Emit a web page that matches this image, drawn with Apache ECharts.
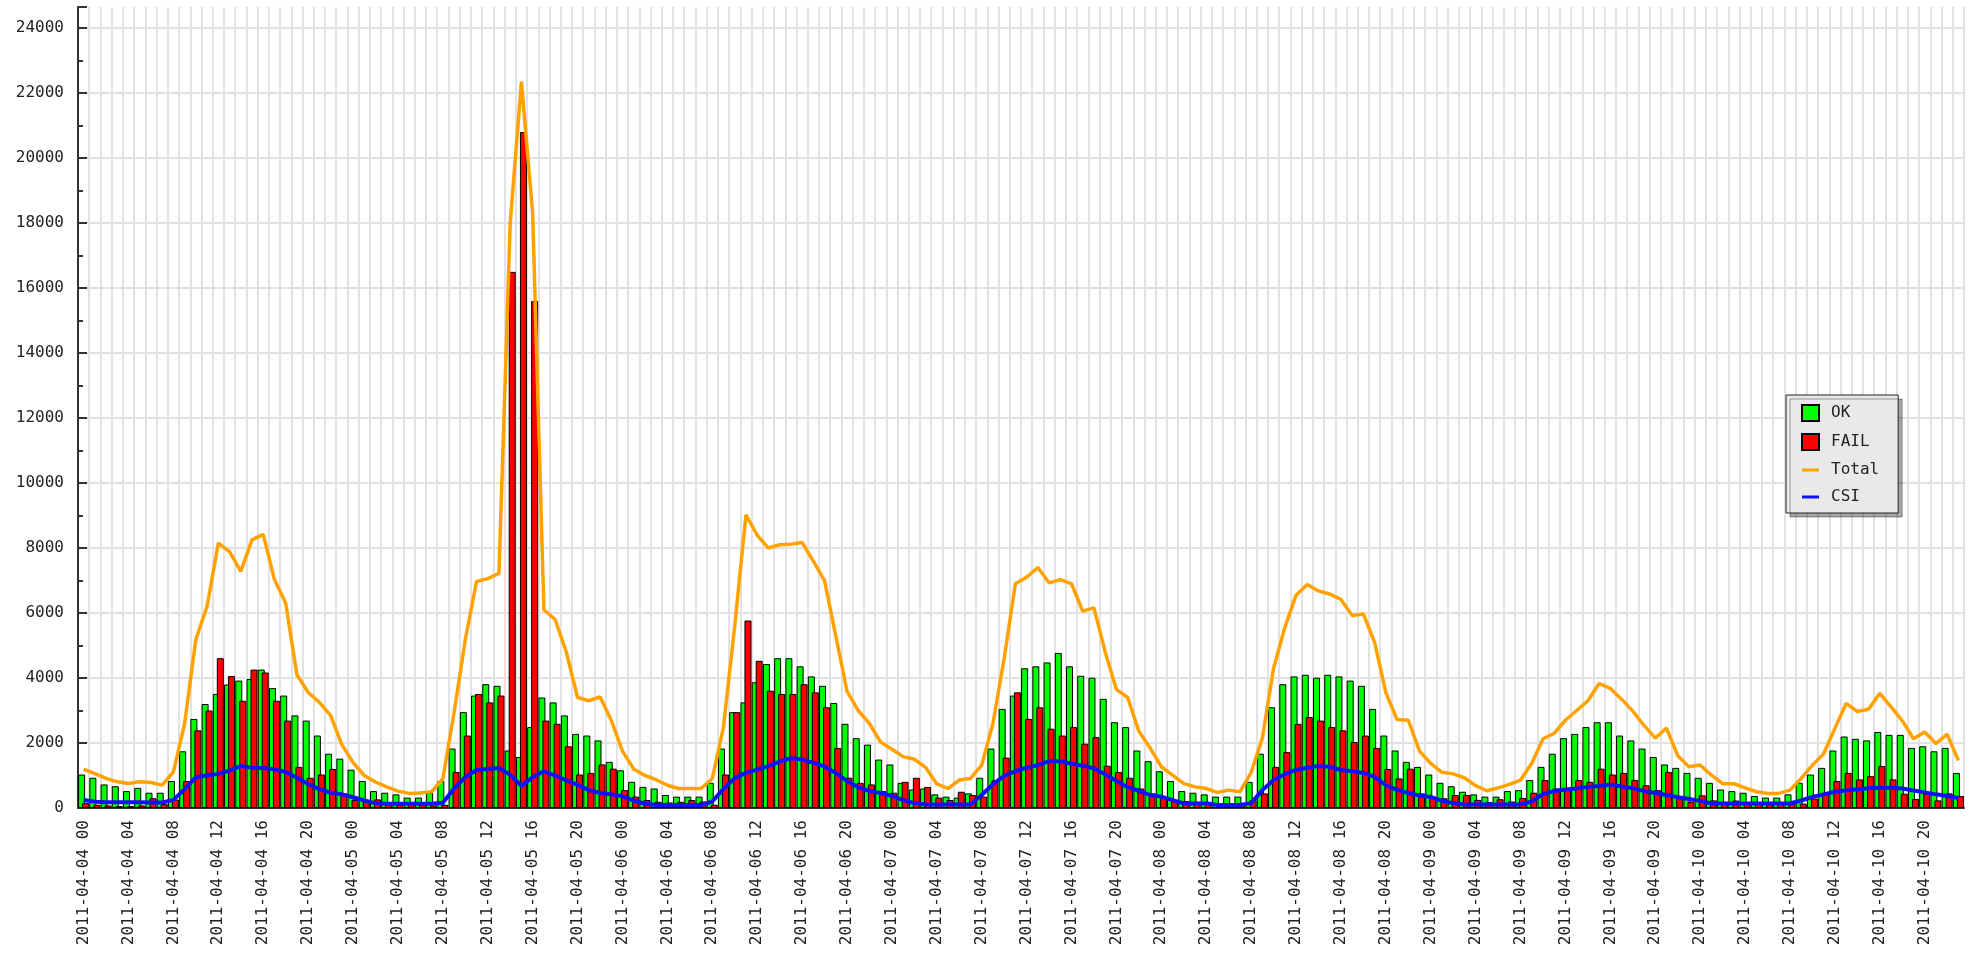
<!DOCTYPE html>
<html>
<head>
<meta charset="utf-8">
<title>OK / FAIL / Total / CSI</title>
<script src="https://cdn.jsdelivr.net/npm/echarts@6/dist/echarts.min.js"></script>
<style>
    html, body { margin: 0; padding: 0; background: #fff; }
    #chart { width: 1973px; height: 957px; }
</style>
</head>
<body>
<div id="chart"></div>
<script>
// 横轴: 7 天 x 24 小时
var days = ['2011-04-04', '2011-04-05', '2011-04-06', '2011-04-07', '2011-04-08', '2011-04-09', '2011-04-10'];
var hours = ['00', '01', '02', '03', '04', '05', '06', '07', '08', '09', '10', '11',
             '12', '13', '14', '15', '16', '17', '18', '19', '20', '21', '22', '23'];

// 每行一天
var okValues = [
    1030, 930, 725, 670, 520, 620, 470, 470, 830, 1745, 2740, 3200, 3510, 3800, 3920, 3970, 4260, 3690, 3460, 2850, 2690, 2230, 1670, 1520,
    1180, 830, 520, 470, 420, 320, 320, 470, 830, 1830, 2950, 3460, 3810, 3760, 1770, 1570, 2490, 3400, 3250, 2850, 2280, 2230, 2080, 1420,
    1160, 805, 650, 600, 400, 350, 350, 350, 775, 1830, 2950, 3250, 3870, 4430, 4610, 4610, 4360, 4050, 3760, 3230, 2590, 2150, 1950, 1490,
    1340, 775, 570, 600, 420, 350, 320, 450, 930, 1830, 3050, 3460, 4300, 4360, 4480, 4770, 4360, 4070, 4010, 3360, 2640, 2490, 1770, 1440,
    1130, 830, 520, 470, 420, 350, 350, 350, 805, 1670, 3100, 3810, 4050, 4100, 4010, 4100, 4050, 3920, 3760, 3050, 2230, 1770, 1420, 1265,
    1030, 775, 670, 500, 420, 350, 350, 520, 550, 860, 1265, 1670, 2150, 2280, 2490, 2640, 2640, 2230, 2080, 1830, 1570, 1340, 1235, 1080,
    930, 775, 570, 520, 470, 370, 320, 320, 420, 775, 1030, 1235, 1770, 2200, 2130, 2080, 2340, 2250, 2250, 1850, 1900, 1745, 1850, 1080
];
var failValues = [
    150, 100, 80, 60, 60, 80, 300, 120, 260, 830, 2390, 3000, 4610, 4060, 3300, 4260, 4170, 3300, 2690, 1265, 930, 1030, 1200, 450,
    250, 200, 265, 180, 100, 120, 130, 80, 100, 1110, 2230, 3510, 3250, 3460, 16500, 20800, 15600, 2690, 2590, 1900, 1030, 1080, 1340, 1210,
    550, 350, 245, 190, 170, 190, 245, 200, 100, 1030, 2950, 5770, 4530, 3610, 3510, 3510, 3810, 3560, 3100, 1850, 930, 775, 725, 520,
    470, 805, 930, 650, 320, 245, 500, 400, 350, 850, 1550, 3560, 2740, 3100, 2440, 2230, 2490, 1980, 2180, 1300, 1110, 930, 600, 450,
    320, 245, 215, 190, 190, 100, 100, 100, 245, 450, 1265, 1720, 2590, 2800, 2690, 2490, 2390, 2030, 2230, 1850, 1200, 910, 1210, 450,
    350, 300, 400, 400, 250, 180, 270, 200, 310, 470, 860, 600, 600, 860, 805, 1210, 1030, 1080, 860, 700, 550, 1110, 370, 190,
    390, 235, 180, 230, 150, 130, 130, 130, 130, 135, 290, 435, 830, 1080, 880, 980, 1290, 880, 440, 280, 440, 235, 450, 370
];
var totalValues = [
    1195, 1060, 910, 805, 755, 805, 785, 705, 1110, 2600, 5190, 6210, 8150, 7890, 7280, 8250, 8420, 7030, 6310, 4100, 3560, 3250, 2850, 1950,
    1400, 1000, 800, 650, 520, 450, 460, 500, 900, 2940, 5180, 6970, 7060, 7220, 18000, 22350, 18300, 6100, 5800, 4800, 3400, 3300, 3420, 2700,
    1750, 1200, 1000, 870, 700, 600, 600, 600, 900, 2500, 5600, 9020, 8400, 8000, 8100, 8120, 8170, 7600, 7000, 5300, 3600, 3000, 2600, 2030,
    1810, 1580, 1500, 1250, 740, 600, 860, 910, 1320, 2600, 4600, 6900, 7100, 7400, 6930, 7030, 6900, 6060, 6160, 4800, 3650, 3400, 2360, 1850,
    1270, 1010, 750, 650, 600, 480, 550, 500, 1090, 2150, 4300, 5550, 6550, 6880, 6680, 6580, 6420, 5920, 5970, 5100, 3550, 2720, 2700, 1750,
    1370, 1100, 1050, 930, 690, 530, 620, 725, 860, 1380, 2130, 2300, 2700, 3000, 3300, 3830, 3680, 3350, 2980, 2540, 2150, 2460, 1610, 1270,
    1320, 1010, 750, 750, 620, 500, 450, 450, 550, 910, 1320, 1670, 2450, 3220, 2970, 3040, 3530, 3110, 2690, 2130, 2340, 1980, 2270, 1460
];
var csiValues = [
    245, 190, 180, 180, 180, 180, 170, 170, 250, 580, 940, 1010, 1050, 1150, 1290, 1240, 1230, 1190, 1110, 930, 740, 580, 470, 420,
    330, 230, 150, 130, 130, 130, 130, 130, 160, 600, 950, 1170, 1200, 1230, 1020, 680, 950, 1130, 1000, 850, 710, 550, 460, 420,
    360, 230, 130, 90, 90, 90, 90, 90, 200, 590, 920, 1080, 1180, 1290, 1430, 1530, 1490, 1390, 1280, 1080, 830, 640, 520, 460,
    370, 245, 150, 110, 110, 110, 110, 110, 400, 730, 990, 1130, 1240, 1320, 1440, 1440, 1360, 1300, 1220, 1040, 830, 640, 530, 400,
    350, 240, 140, 140, 140, 90, 90, 90, 150, 550, 860, 1040, 1170, 1240, 1290, 1270, 1170, 1130, 1080, 960, 700, 560, 460, 380,
    340, 220, 150, 110, 110, 110, 110, 110, 110, 200, 430, 520, 570, 600, 650, 680, 720, 660, 610, 520, 460, 400, 330, 275,
    220, 140, 140, 140, 140, 140, 140, 140, 140, 230, 340, 420, 500, 540, 580, 610, 620, 620, 600, 540, 480, 420, 370, 310
];

var categories = [];
days.forEach(function (d) {
    hours.forEach(function (h) {
        categories.push(d + ' ' + h);
    });
});

var mono = '"DejaVu Sans Mono", "Liberation Mono", monospace';
var gridColor = '#e2e2e2';
// 图例里折线只画一条短线, 不要圆点
var lineIcon = 'path://M0,0 L17,0 L17,3 L0,3 Z';

var chart = echarts.init(document.getElementById('chart'));
var option = {
    animation: false,
    backgroundColor: '#ffffff',
    textStyle: { fontFamily: mono },
    grid: { left: 78, right: 9, top: 7, bottom: 149 },
    legend: {
        orient: 'vertical',
        left: 1786,
        top: 395,
        padding: [9, 19, 8, 15],
        itemGap: 11,
        itemWidth: 17,
        itemHeight: 16,
        backgroundColor: '#e9e9e9',
        borderColor: '#222',
        borderWidth: 1,
        shadowColor: 'rgba(0, 0, 0, 0.35)',
        shadowBlur: 0,
        shadowOffsetX: 4,
        shadowOffsetY: 4,
        textStyle: { fontFamily: mono, fontSize: 16, color: '#222', padding: [0, 0, 0, 7] },
        data: [
            { name: 'OK', icon: 'rect' },
            { name: 'FAIL', icon: 'rect' },
            { name: 'Total', icon: lineIcon },
            { name: 'CSI', icon: lineIcon }
        ]
    },
    xAxis: {
        type: 'category',
        data: categories,
        boundaryGap: true,
        axisLine: { lineStyle: { color: '#333', width: 2 } },
        axisTick: { show: false },
        axisLabel: {
            interval: 3,
            rotate: 90,
            margin: 12,
            fontFamily: mono,
            fontSize: 16,
            color: '#222'
        },
        splitLine: { show: true, interval: 0, lineStyle: { color: gridColor, width: 2 } }
    },
    yAxis: {
        type: 'value',
        min: 0,
        max: 24650,
        interval: 2000,
        axisLine: { show: true, lineStyle: { color: '#333', width: 2 } },
        axisTick: { show: true, inside: true, length: 9, lineStyle: { color: '#333', width: 2 } },
        minorTick: { show: true, splitNumber: 2, length: 5, lineStyle: { color: '#333', width: 2 } },
        axisLabel: {
            margin: 14,
            fontFamily: mono,
            fontSize: 16,
            color: '#222',
            showMaxLabel: false,
            formatter: function (v) { return String(v); }
        },
        splitLine: { show: true, showMaxLine: false, lineStyle: { color: gridColor, width: 2 } }
    },
    series: [{
        name: 'OK',
        type: 'bar',
        data: okValues,
        barWidth: 7,
        barGap: '-43%',
        itemStyle: { color: '#00ff00', borderColor: '#000', borderWidth: 1 }
    }, {
        name: 'FAIL',
        type: 'bar',
        data: failValues,
        barWidth: 7,
        barGap: '-43%',
        itemStyle: { color: '#ff0000', borderColor: '#000', borderWidth: 1 }
    }, {
        name: 'Total',
        type: 'line',
        data: totalValues,
        symbol: 'none',
        itemStyle: { color: '#ffa200' },
        lineStyle: { color: '#ffa200', width: 3.5 }
    }, {
        name: 'CSI',
        type: 'line',
        data: csiValues,
        symbol: 'none',
        itemStyle: { color: '#1010ff' },
        lineStyle: { color: '#1010ff', width: 4 }
    }]
};
chart.setOption(option);
</script>
</body>
</html>
